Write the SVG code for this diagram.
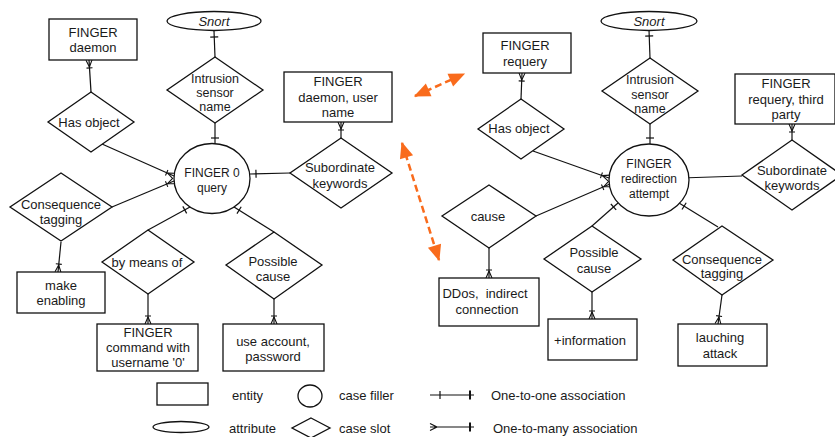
<svg xmlns="http://www.w3.org/2000/svg" width="835" height="437" viewBox="0 0 835 437">
  <style>
    .shape { fill: #fff; stroke: #111; stroke-width: 1.3; }
    .link { fill: none; stroke: #111; stroke-width: 1.2; }
    text { font-family: "Liberation Sans", Arial, sans-serif; font-size: 13px; fill: #1a1a1a; text-anchor: middle; dominant-baseline: central; }
    .filler text { font-size: 12px; }
    .tight text { font-size: 12.5px; }
    .attr text { font-style: italic; }
    .legend text { text-anchor: start; }
    .hint { fill: none; stroke: #f96b1c; stroke-width: 2.5; stroke-dasharray: 7 4; }
  </style>
  <defs>
    <!-- single bar: the "one" end of an association -->
    <marker id="one" markerUnits="userSpaceOnUse" markerWidth="20" markerHeight="20" viewBox="-10 -10 20 20" refX="0" refY="0" orient="auto-start-reverse" overflow="visible">
      <path d="M-6,-4 L-6,4" stroke="#111" stroke-width="1.2" fill="none"/>
    </marker>
    <!-- crow's foot with bar: the "many" end of an association -->
    <marker id="many" markerUnits="userSpaceOnUse" markerWidth="20" markerHeight="20" viewBox="-10 -10 20 20" refX="0" refY="0" orient="auto-start-reverse" overflow="visible">
      <path d="M-7,0 L0,-3 M-7,0 L0,3 M-8,-3 L-8,3" stroke="#111" stroke-width="1.1" fill="none"/>
    </marker>
    <marker id="head" markerUnits="userSpaceOnUse" markerWidth="20" markerHeight="20" viewBox="-14 -8 16 16" refX="0" refY="0" orient="auto-start-reverse" overflow="visible">
      <path d="M1,0 L-12,-5.5 L-12,5.5 Z" fill="#f96b1c"/>
    </marker>
  </defs>

  <!-- connectors -->
  <g id="connectors">
    <!-- left: FINGER 0 query -->
    <path class="link" d="M214,31 L215,57" marker-start="url(#one)"/>
    <path class="link" d="M215,123 L215,144" marker-end="url(#one)"/>
    <path class="link" d="M91,92 L89,60" marker-end="url(#many)"/>
    <path class="link" d="M102,144 L174,176" marker-end="url(#many)"/>
    <path class="link" d="M112,207 L174,181" marker-end="url(#many)"/>
    <path class="link" d="M61,242 L58,272" marker-end="url(#many)"/>
    <path class="link" d="M341,138 L341,122" marker-end="url(#many)"/>
    <path class="link" d="M290,173 L250,174" marker-end="url(#one)"/>
    <path class="link" d="M148,230 L190,207" marker-end="url(#one)"/>
    <path class="link" d="M148,294 L148,324" marker-end="url(#many)"/>
    <path class="link" d="M274,232 L234,207" marker-end="url(#one)"/>
    <path class="link" d="M274,299 L274,324" marker-end="url(#many)"/>

    <!-- right: FINGER redirection attempt -->
    <path class="link" d="M649,30 L650,58" marker-start="url(#one)"/>
    <path class="link" d="M650,124 L650,144" marker-end="url(#one)"/>
    <path class="link" d="M521,99 L522,73" marker-end="url(#many)"/>
    <path class="link" d="M533,151 L609,178" marker-end="url(#many)"/>
    <path class="link" d="M536,216 L610,184" marker-end="url(#many)"/>
    <path class="link" d="M792,140 L792,124" marker-end="url(#many)"/>
    <path class="link" d="M742,176 L681,178" marker-end="url(#one)"/>
    <path class="link" d="M489,248 L489,278" marker-end="url(#many)"/>
    <path class="link" d="M592,226 L618,203" marker-end="url(#one)"/>
    <path class="link" d="M592,292 L592,319" marker-end="url(#many)"/>
    <path class="link" d="M718,227 L679,203" marker-end="url(#one)"/>
    <path class="link" d="M722,295 L718,324" marker-end="url(#many)"/>

    <!-- transition arrows between the two frames -->
    <path class="hint" d="M415,96 L464,74" marker-start="url(#head)" marker-end="url(#head)"/>
    <path class="hint" d="M402,143 L439,260" marker-start="url(#head)" marker-end="url(#head)"/>
  </g>

  <!-- left frame nodes -->
  <g id="l-daemon">
    <rect class="shape" x="49" y="19" width="88" height="41"/>
    <text x="93" y="32">FINGER</text>
    <text x="93" y="47">daemon</text>
  </g>
  <g id="l-snort" class="attr">
    <ellipse class="shape" cx="214" cy="21" rx="47" ry="9.5"/>
    <text x="214" y="21">Snort</text>
  </g>
  <g id="l-sensor" class="tight">
    <polygon class="shape" points="215,57 263,90 215,123 167,90"/>
    <text x="215" y="79">Intrusion</text>
    <text x="215" y="93">sensor</text>
    <text x="215" y="107">name</text>
  </g>
  <g id="l-hasobject">
    <polygon class="shape" points="91,92 134,122 91,152 48,122"/>
    <text x="89" y="122">Has object</text>
  </g>
  <g id="l-user">
    <rect class="shape" x="284" y="72" width="108" height="50"/>
    <text x="338" y="81">FINGER</text>
    <text x="338" y="97">daemon, user</text>
    <text x="338" y="112">name</text>
  </g>
  <g id="l-subkeys">
    <polygon class="shape" points="341,138 392,173 341,208 290,173"/>
    <text x="340" y="167">Subordinate</text>
    <text x="340" y="183">keywords</text>
  </g>
  <g id="l-query" class="filler">
    <ellipse class="shape" cx="212" cy="178.5" rx="38" ry="35"/>
    <text x="212" y="173">FINGER 0</text>
    <text x="212" y="188">query</text>
  </g>
  <g id="l-consequence">
    <polygon class="shape" points="61,173 112,207 61,241 10,207"/>
    <text x="61" y="204">Consequence</text>
    <text x="61" y="219">tagging</text>
  </g>
  <g id="l-enabling">
    <rect class="shape" x="17" y="272" width="88" height="41"/>
    <text x="61" y="285">make</text>
    <text x="61" y="300">enabling</text>
  </g>
  <g id="l-bymeans">
    <polygon class="shape" points="148,230 194,262 148,294 102,262"/>
    <text x="147" y="262">by means of</text>
  </g>
  <g id="l-command">
    <rect class="shape" x="97" y="324" width="101" height="47"/>
    <text x="148" y="332">FINGER</text>
    <text x="148" y="347">command with</text>
    <text x="148" y="362">username '0'</text>
  </g>
  <g id="l-cause">
    <polygon class="shape" points="274,232 322,265 274,299 226,265"/>
    <text x="273" y="261">Possible</text>
    <text x="273" y="276">cause</text>
  </g>
  <g id="l-account">
    <rect class="shape" x="223" y="324" width="101" height="47"/>
    <text x="273" y="341">use account,</text>
    <text x="273" y="356">password</text>
  </g>

  <!-- right frame nodes -->
  <g id="r-requery">
    <rect class="shape" x="483" y="33" width="88" height="40"/>
    <text x="525" y="45">FINGER</text>
    <text x="525" y="61">requery</text>
  </g>
  <g id="r-snort" class="attr">
    <ellipse class="shape" cx="649" cy="21" rx="48" ry="9.5"/>
    <text x="649" y="21">Snort</text>
  </g>
  <g id="r-sensor" class="tight">
    <polygon class="shape" points="650,58 698,91 650,124 602,91"/>
    <text x="650" y="80">Intrusion</text>
    <text x="650" y="94.5">sensor</text>
    <text x="650" y="108.5">name</text>
  </g>
  <g id="r-hasobject">
    <polygon class="shape" points="521,99 564,129 521,159 478,129"/>
    <text x="519" y="128">Has object</text>
  </g>
  <g id="r-third">
    <rect class="shape" x="735" y="74" width="100" height="50"/>
    <text x="786" y="83">FINGER</text>
    <text x="786" y="99">requery, third</text>
    <text x="786" y="114">party</text>
  </g>
  <g id="r-subkeys">
    <polygon class="shape" points="792,140 842,175 792,210 742,175"/>
    <text x="792" y="170">Subordinate</text>
    <text x="792" y="185">keywords</text>
  </g>
  <g id="r-attempt" class="filler">
    <ellipse class="shape" cx="649" cy="180" rx="40" ry="36"/>
    <text x="649" y="164">FINGER</text>
    <text x="649" y="179">redirection</text>
    <text x="649" y="194">attempt</text>
  </g>
  <g id="r-cause">
    <polygon class="shape" points="489,185 536,216 489,248 442,216"/>
    <text x="488" y="216">cause</text>
  </g>
  <g id="r-ddos">
    <rect class="shape" x="439" y="278" width="100" height="48"/>
    <text x="485" y="293">DDos,&#160; indirect</text>
    <text x="487" y="309">connection</text>
  </g>
  <g id="r-possible">
    <polygon class="shape" points="592,226 641,259 592,292 544,259"/>
    <text x="594" y="252">Possible</text>
    <text x="594" y="268">cause</text>
  </g>
  <g id="r-information">
    <rect class="shape" x="548" y="319" width="89" height="41"/>
    <text x="590" y="340">+information</text>
  </g>
  <g id="r-consequence">
    <polygon class="shape" points="722,226 773,260 722,295 673,260"/>
    <text x="722" y="259">Consequence</text>
    <text x="722" y="273">tagging</text>
  </g>
  <g id="r-attack">
    <rect class="shape" x="678" y="324" width="89" height="42"/>
    <text x="720" y="337">lauching</text>
    <text x="720" y="353">attack</text>
  </g>

  <!-- legend -->
  <g id="legend" class="legend">
    <rect class="shape" x="157" y="383" width="51" height="22"/>
    <text x="232" y="395">entity</text>
    <ellipse class="shape" cx="310" cy="396" rx="12" ry="11"/>
    <text x="339" y="395">case filler</text>
    <path class="link" d="M430,395 L474,395 M440,391 L440,399"/>
    <path d="M470,390.5 L470,399.5" stroke="#111" stroke-width="2" fill="none"/>
    <text x="491" y="395">One-to-one association</text>

    <ellipse class="shape" cx="181" cy="427" rx="28" ry="5.5"/>
    <text x="229" y="428">attribute</text>
    <polygon class="shape" points="311,418 330,428 311,438 292,428"/>
    <text x="339" y="428">case slot</text>
    <path class="link" d="M430,427 L474,427 M430,423.5 L437,427 L430,430.5"/>
    <path d="M470,422.5 L470,431.5" stroke="#111" stroke-width="2" fill="none"/>
    <text x="493" y="428">One-to-many association</text>
  </g>
</svg>
